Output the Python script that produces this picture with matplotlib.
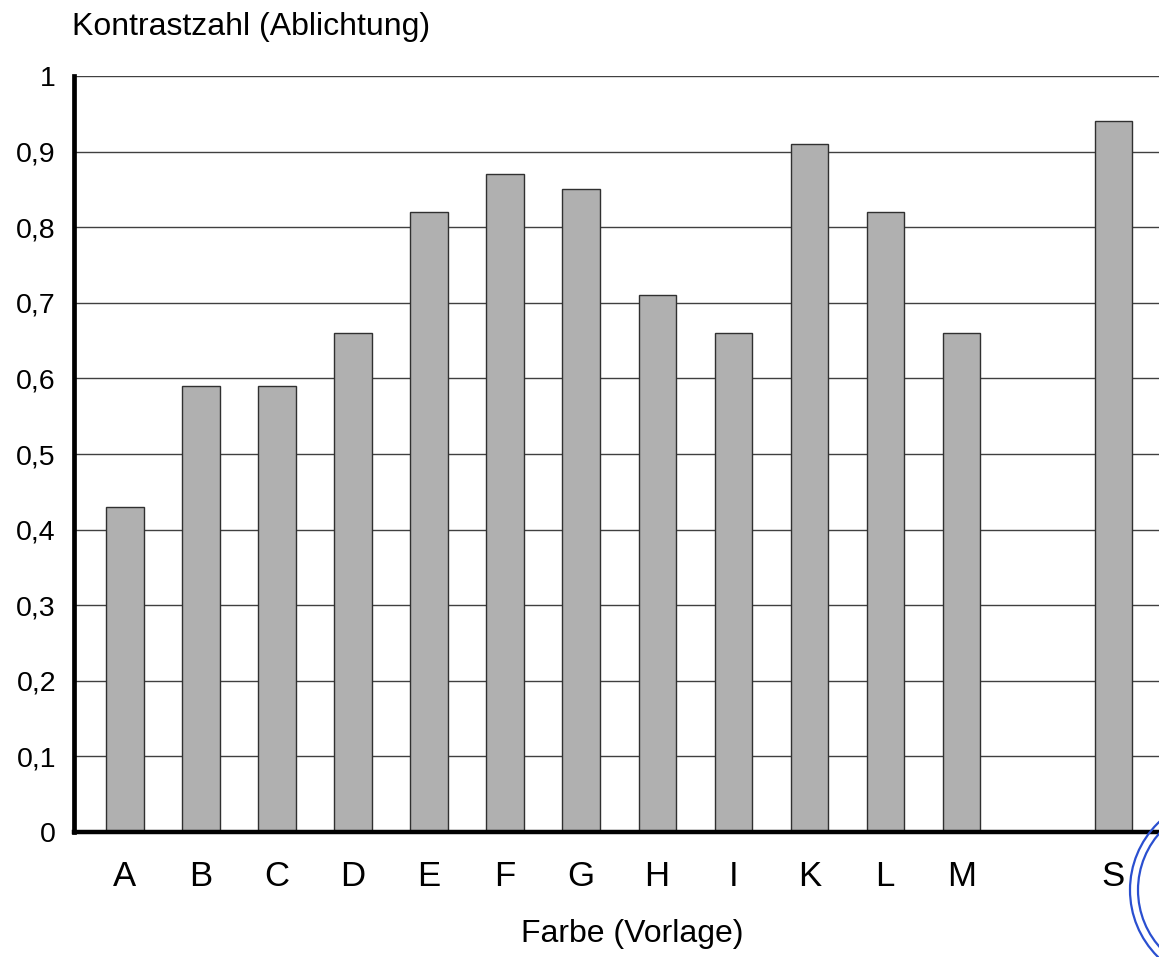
import matplotlib.pyplot as plt
from matplotlib.patches import Circle

plt.rcParams['font.family'] = ['Liberation Sans', 'DejaVu Sans']

# Farbe (Vorlage) and Kontrastzahl (Ablichtung)
farben = ['A', 'B', 'C', 'D', 'E', 'F', 'G', 'H', 'I', 'K', 'L', 'M', 'S']
kontrast = [0.43, 0.59, 0.59, 0.66, 0.82, 0.87, 0.85, 0.71, 0.66, 0.91, 0.82, 0.66, 0.94]
y_ticks = [0, 0.1, 0.2, 0.3, 0.4, 0.5, 0.6, 0.7, 0.8, 0.9, 1.0]
y_labels = ['0', '0,1', '0,2', '0,3', '0,4', '0,5', '0,6', '0,7', '0,8', '0,9', '1']

# S stands apart from the others
pos = list(range(len(farben) - 1)) + [len(farben)]

fig = plt.figure(figsize=(11.59, 9.57), dpi=100)
ax = fig.add_axes([0.0638, 0.1306, 0.9362, 0.79])

ax.bar(pos, kontrast, width=0.49, color='#b0b0b0', edgecolor='#303030',
       linewidth=1.0, zorder=3)

ax.set_xlim(-0.67, 13.6)
ax.set_ylim(0, 1.0)
ax.set_yticks(y_ticks)
ax.set_yticklabels(y_labels, fontsize=20.5)
ax.set_xticks(pos)
ax.set_xticklabels(farben, fontsize=25)
ax.tick_params(axis='y', length=0, pad=13)
ax.tick_params(axis='x', length=0, pad=20)

ax.grid(axis='y', color='#404040', linewidth=1.0, zorder=1)
ax.set_axisbelow(True)
for s in ['top', 'right']:
    ax.spines[s].set_visible(False)
ax.spines['left'].set_linewidth(3.4)
ax.spines['bottom'].set_linewidth(3.2)
ax.spines['left'].set_zorder(4)
ax.spines['bottom'].set_zorder(4)

fig.text(72 / 1159, 1 - 27 / 957, 'Kontrastzahl (Ablichtung)', fontsize=23,
         ha='left', va='center')
fig.text(632 / 1159, 1 - 934 / 957, 'Farbe (Vorlage)', fontsize=23,
         ha='center', va='center')

# Stempel am rechten Rand
for r in [94, 86]:
    c = Circle((1224, 957 - 890), r, transform=None, fill=False,
               edgecolor='#2a4fd0', linewidth=1.6)
    fig.patches.append(c)

fig.savefig('out.png', dpi=100)
